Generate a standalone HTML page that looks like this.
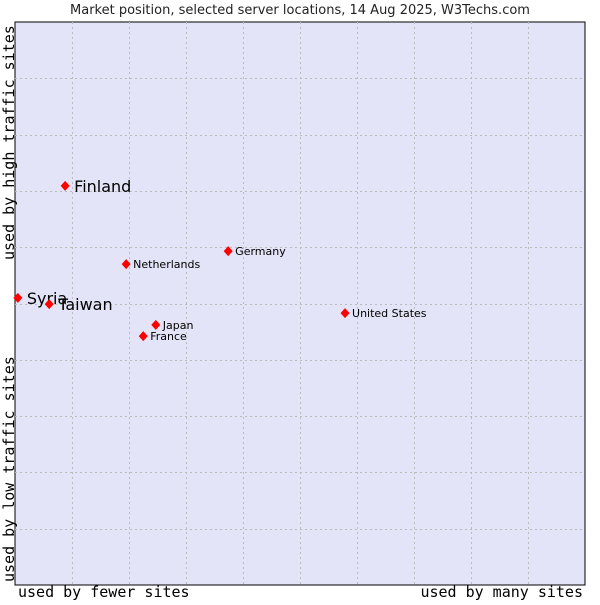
<!DOCTYPE html>
<html><head><meta charset="utf-8"><style>
body{margin:0;background:#fff;width:600px;height:600px;overflow:hidden}
svg text{font-family:"DejaVu Sans","Liberation Sans",sans-serif}
.mono{font-family:"DejaVu Sans Mono","Liberation Mono",monospace}
</style></head><body>
<svg id="chart" width="600" height="600" xmlns="http://www.w3.org/2000/svg">
<text x="300" y="14" text-anchor="middle" font-size="13" fill="#222">Market position, selected server locations, 14 Aug 2025, W3Techs.com</text>
<rect x="15" y="22" width="570" height="563" fill="#e4e4f8" stroke="#000" stroke-width="1"/>
<g id="grid"></g>
<g id="points"></g>
<text class="mono" x="18" y="597" font-size="15" fill="#000">used by fewer sites</text>
<text class="mono" x="583" y="597" text-anchor="end" font-size="15" fill="#000">used by many sites</text>
<text class="mono" transform="translate(14,260) rotate(-90)" font-size="15" fill="#000">used by high traffic sites</text>
<text class="mono" transform="translate(14,582) rotate(-90)" font-size="15" fill="#000">used by low traffic sites</text>
</svg>
<script>
const names=["Finland","Syria","Taiwan","Netherlands","Germany","Japan","France","United States"];
const xValues=[8.8,0.5,6.0,19.5,37.4,24.7,22.5,57.9];
const yValues=[70.9,51.0,49.9,57.0,59.3,46.2,44.2,48.3];
const bigLabel=[true,true,true,false,false,false,false,false];
const L=15,R=585,T=22,B=585;
const sx=v=>L+v/100*(R-L);
const sy=v=>B-v/100*(B-T);
const ns="http://www.w3.org/2000/svg";
const grid=document.getElementById('grid');
for(let i=1;i<10;i++){
  const gx=document.createElementNS(ns,'line');
  
  
  const x=Math.round(sx(i*10))+0.5;
  gx.setAttribute('x1',x);gx.setAttribute('x2',x);gx.setAttribute('y1',T);gx.setAttribute('y2',B);
  gx.setAttribute('stroke','#bbb');gx.setAttribute('stroke-dasharray','2,3');
  grid.appendChild(gx);
  const gy=document.createElementNS(ns,'line');
  
  
  const y=Math.round(sy(i*10))+0.5;
  gy.setAttribute('x1',L);gy.setAttribute('x2',R);gy.setAttribute('y1',y);gy.setAttribute('y2',y);
  gy.setAttribute('stroke','#bbb');gy.setAttribute('stroke-dasharray','2,3');
  grid.appendChild(gy);
}
const pts=document.getElementById('points');
names.forEach((n,i)=>{
  const x=sx(xValues[i]),y=sy(yValues[i]);
  const d=document.createElementNS(ns,'path');
  
  
  d.setAttribute('d',`M${x} ${y-5}L${x+4.5} ${y}L${x} ${y+5}L${x-4.5} ${y}Z`);
  d.setAttribute('fill','#f00');
  pts.appendChild(d);
  const t=document.createElementNS(ns,'text');
  
  
  t.setAttribute('x',x+(bigLabel[i]?9:7));
  t.setAttribute('y',y+(bigLabel[i]?6:4));
  t.setAttribute('font-size',bigLabel[i]?16:11);
  t.setAttribute('fill','#000');
  t.textContent=n;
  pts.appendChild(t);
});
</script>
</body></html>
